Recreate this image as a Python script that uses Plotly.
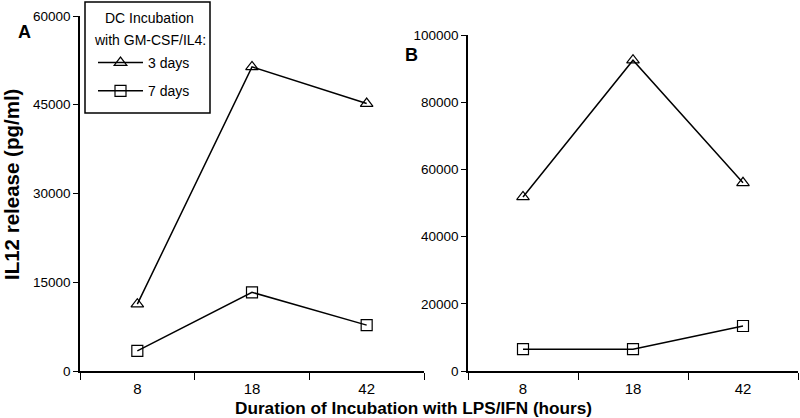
import plotly.graph_objects as go
from plotly.subplots import make_subplots

hours = ["8", "18", "42"]
a_3days = [11300, 51400, 45200]
a_7days = [3400, 13300, 7750]
b_3days = [51800, 92500, 56000]
b_7days = [6500, 6500, 13400]
a_ticks = [0, 15000, 30000, 45000, 60000]
b_ticks = [0, 20000, 40000, 60000, 80000, 100000]

W, H = 800, 418
FONT = "Liberation Sans, Arial, sans-serif"

fig = make_subplots(rows=1, cols=2)

line = dict(color="black", width=1.5)
tri = dict(symbol="triangle-up-open", size=11, color="black", line=dict(width=1.2))
sq = dict(symbol="square-open", size=11, color="black", line=dict(width=1.2))

fig.add_trace(go.Scatter(x=hours, y=a_3days, mode="lines+markers", name="3 days",
                         line=line, marker=tri, legendgroup="g1"), 1, 1)
fig.add_trace(go.Scatter(x=hours, y=a_7days, mode="lines+markers", name="7 days",
                         line=line, marker=sq, legendgroup="g2"), 1, 1)
fig.add_trace(go.Scatter(x=hours, y=b_3days, mode="lines+markers", showlegend=False,
                         line=line, marker=tri), 1, 2)
fig.add_trace(go.Scatter(x=hours, y=b_7days, mode="lines+markers", showlegend=False,
                         line=line, marker=sq), 1, 2)


def px(p):
    return p / W


def py(p):  # pixel from top -> paper fraction
    return 1 - p / H


xcommon = dict(type="category", tickson="boundaries", ticks="outside", ticklen=7,
               tickcolor="black", showline=True, linecolor="black", linewidth=1.5,
               showgrid=False, zeroline=False, range=[-0.5, 2.5], ticklabelstandoff=3,
               tickfont=dict(size=15, color="black", family=FONT))
ycommon = dict(ticks="outside", ticklen=5, tickcolor="black", showline=True,
               linecolor="black", linewidth=1.5, showgrid=False, zeroline=False,
               tickformat="d", tickfont=dict(size=13.5, color="black", family=FONT))

fig.update_xaxes(xcommon)
fig.update_yaxes(ycommon)
fig.update_xaxes(domain=[px(80), px(424)], row=1, col=1)
fig.update_xaxes(domain=[px(468), px(798)], row=1, col=2)
fig.update_yaxes(domain=[py(371), py(16)], range=[0, 60000], tickvals=a_ticks, row=1, col=1)
fig.update_yaxes(domain=[py(371), py(35)], range=[0, 100000], tickvals=b_ticks, row=1, col=2)


def note(text, x, y, size, angle=0):
    return dict(text=text, x=px(x), y=py(y), xref="paper", yref="paper",
                xanchor="center", yanchor="middle", showarrow=False,
                textangle=angle, font=dict(size=size, family=FONT, color="black"))


fig.update_layout(
    width=W, height=H,
    margin=dict(l=0, r=0, t=0, b=0, autoexpand=False),
    plot_bgcolor="white", paper_bgcolor="white",
    font=dict(family=FONT, color="black", size=14),
    legend=dict(
        x=px(93), y=py(47), xanchor="left", yanchor="top",
        borderwidth=0, bgcolor="rgba(0,0,0,0)",
        font=dict(size=14), tracegroupgap=7, itemwidth=45,
    ),
    shapes=[
        dict(type="rect", xref="paper", yref="paper", x0=px(85), x1=px(210),
             y0=py(113), y1=py(2), line=dict(color="black", width=1.5),
             fillcolor="white", layer="below"),
    ],
    annotations=[
        note("DC Incubation", 149, 18, 14),
        note("with GM-CSF/IL4:", 150, 40, 14),
        note("<b>A</b>", 24, 32, 18),
        note("<b>B</b>", 411, 55, 18),
        note("<b>IL12 release (pg/ml)</b>", 12, 185, 20.5, -90),
        note("<b>Duration of Incubation with LPS/IFN (hours)</b>", 414, 408, 17.2),
    ],
)

# the page's default body margin would push the 800x418 figure out of the window
fig.write_html("out.html", config={"displayModeBar": False},
               post_script="document.body.style.margin='0';")
